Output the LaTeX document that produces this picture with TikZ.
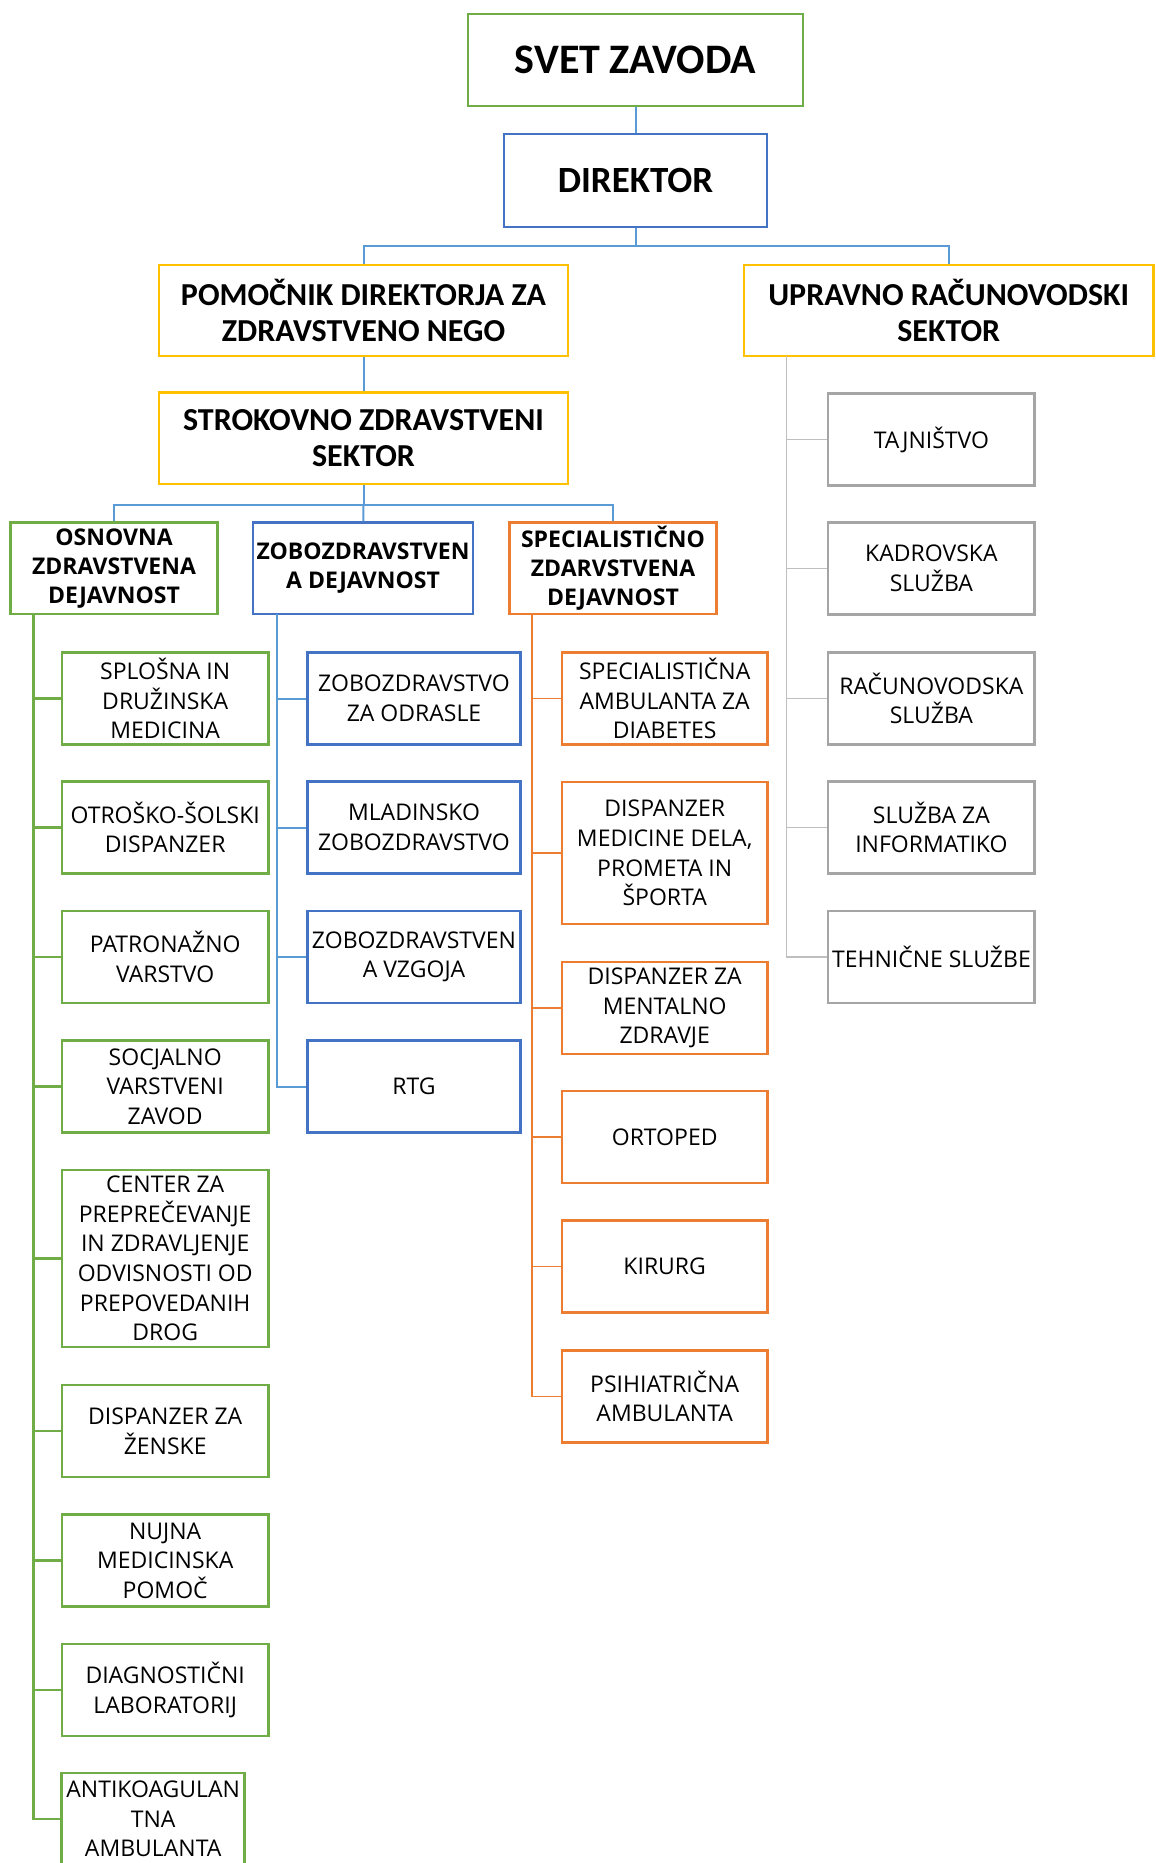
\documentclass[tikz,border=0pt]{standalone}
\usepackage{fontspec}
\setmainfont{Open Sans}
\newfontfamily\calfont{Carlito}
\definecolor{orggreen}{HTML}{70AD47}
\definecolor{orgblue}{HTML}{4472C4}
\definecolor{lineblue}{HTML}{5B9BD5}
\definecolor{orgorange}{HTML}{ED7D31}
\definecolor{orggold}{HTML}{FFC000}
\definecolor{orggray}{HTML}{A5A5A5}
\definecolor{linegray}{HTML}{BFBFBF}
\begin{document}
\begin{tikzpicture}
    [x=0.5pt,y=-0.5pt,inner sep=0pt,
     box/.style={rectangle,draw,line width=1.25pt,align=center,minimum height=46pt,
       font=\fontsize{11.5}{14.8}\selectfont},
     topbox/.style={box,font=\calfont\bfseries\fontsize{16}{17.8}\selectfont},
     headbox/.style={box,font=\bfseries\fontsize{11.5}{14.6}\selectfont},
     greenbox/.style={box,draw=orggreen,minimum width=103.3pt},
     bluebox/.style={box,draw=orgblue,minimum width=106.3pt},
     orangebox/.style={box,draw=orgorange,minimum width=102.7pt},
     graybox/.style={box,draw=orggray,minimum width=103.3pt},
     topline/.style={draw=lineblue,line width=1pt},
     greenline/.style={draw=orggreen,line width=1.3pt},
     blueline/.style={draw=lineblue,line width=1pt},
     orangeline/.style={draw=orgorange,line width=0.6pt},
     grayline/.style={draw=linegray,line width=0.6pt}]

    \useasboundingbox (0,0) rectangle (1156,1863);

    % top of the chart:
    \node (svet) at (635.5, 60) [box,draw=orggreen,minimum width=167.5pt,
      font=\calfont\bfseries\fontsize{21}{24}\selectfont] {SVET ZAVODA};
    \node (dir) at (635.5, 180.5) [box,draw=orgblue,minimum width=131.5pt,minimum height=46.5pt,
      font=\calfont\bfseries\fontsize{18.5}{22}\selectfont] {DIREKTOR};

    % sectors:
    \node (pom) at (363.5, 310.5) [topbox,draw=orggold,minimum width=204.5pt,minimum height=45.5pt]
      {POMOČNIK DIREKTORJA ZA\\ZDRAVSTVENO NEGO};
    \node (upr) at (948.75, 310.5) [topbox,draw=orggold,minimum width=204.75pt,minimum height=45.5pt]
      {UPRAVNO RAČUNOVODSKI\\SEKTOR};
    \node (strok) at (363.5, 438) [topbox,draw=orggold,minimum width=204.5pt,minimum height=45.75pt]
      {STROKOVNO ZDRAVSTVENI\\SEKTOR};

    % activities:
    \node (osn) at (114, 568.4) [headbox,draw=orggreen,minimum width=103.3pt,minimum height=45.7pt]
      {OSNOVNA\\ZDRAVSTVENA\\DEJAVNOST};
    \node (zob) at (363, 568.4) [headbox,draw=orgblue,minimum width=110pt,minimum height=45.7pt]
      {ZOBOZDRAVSTVEN\\A DEJAVNOST};
    \node (spec) at (613, 568.4) [headbox,draw=orgorange,minimum width=103.3pt,minimum height=45.7pt]
      {SPECIALISTIČNO\\ZDARVSTVENA\\DEJAVNOST};

    % green column:
    \node (g1) at (165.2, 698.5) [greenbox] {SPLOŠNA IN\\DRUŽINSKA\\MEDICINA};
    \node (g2) at (165.2, 827.5) [greenbox] {OTROŠKO-ŠOLSKI\\DISPANZER};
    \node (g3) at (165.2, 957) [greenbox] {PATRONAŽNO\\VARSTVO};
    \node (g4) at (165.2, 1086.5) [greenbox] {SOCJALNO\\VARSTVENI\\ZAVOD};
    \node (g5) at (165.2, 1258.5) [greenbox,minimum height=88.5pt]
      {CENTER ZA\\PREPREČEVANJE\\IN ZDRAVLJENJE\\ODVISNOSTI OD\\PREPOVEDANIH\\DROG};
    \node (g6) at (165.2, 1431) [greenbox] {DISPANZER ZA\\ŽENSKE};
    \node (g7) at (165.2, 1560.5) [greenbox] {NUJNA\\MEDICINSKA\\POMOČ};
    \node (g8) at (165.2, 1690) [greenbox] {DIAGNOSTIČNI\\LABORATORIJ};
    \node (g9) at (153.2, 1819) [greenbox,minimum width=91.5pt] {ANTIKOAGULAN\\TNA\\AMBULANTA};

    % blue column:
    \node (b1) at (414, 698.5) [bluebox] {ZOBOZDRAVSTVO\\ZA ODRASLE};
    \node (b2) at (414, 827.5) [bluebox] {MLADINSKO\\ZOBOZDRAVSTVO};
    \node (b3) at (414, 957) [bluebox] {ZOBOZDRAVSTVEN\\A VZGOJA};
    \node (b4) at (414, 1086.5) [bluebox] {RTG};

    % orange column:
    \node (o1) at (664.7, 698.5) [orangebox] {SPECIALISTIČNA\\AMBULANTA ZA\\DIABETES};
    \node (o2) at (664.7, 853) [orangebox,minimum height=71pt]
      {DISPANZER\\MEDICINE DELA,\\PROMETA IN\\ŠPORTA};
    \node (o3) at (664.7, 1008) [orangebox] {DISPANZER ZA\\MENTALNO\\ZDRAVJE};
    \node (o4) at (664.7, 1137) [orangebox] {ORTOPED};
    \node (o5) at (664.7, 1266.5) [orangebox] {KIRURG};
    \node (o6) at (664.7, 1396.5) [orangebox] {PSIHIATRIČNA\\AMBULANTA};

    % gray column:
    \node (s1) at (931.4, 439.5) [graybox] {TAJNIŠTVO};
    \node (s2) at (931.4, 568.5) [graybox] {KADROVSKA\\SLUŽBA};
    \node (s3) at (931.4, 698.5) [graybox] {RAČUNOVODSKA\\SLUŽBA};
    \node (s4) at (931.4, 827.5) [graybox] {SLUŽBA ZA\\INFORMATIKO};
    \node (s5) at (931.4, 957) [graybox] {TEHNIČNE SLUŽBE};

    % forks and trunks:
    \coordinate (fork1) at (635.5, 246);
    \coordinate (fork2) at (363.5, 505);
    \coordinate (gtrunk) at (33.3, 614);
    \coordinate (btrunk) at (276.8, 614);
    \coordinate (otrunk) at (532, 614);
    \coordinate (strunk) at (786.5, 356);

    % connect nodes:

    \draw [topline] (svet) to (dir);
    \draw [topline] (dir) to (fork1);
    \draw [topline] (fork1) -| (pom);
    \draw [topline] (fork1) -| (upr);
    \draw [topline] (pom) to (strok);
    \draw [topline] (strok) to (fork2);
    \draw [topline] (fork2) -| (osn);
    \draw [topline] (fork2) to (zob);
    \draw [topline] (fork2) -| (spec);

    \draw [greenline] (gtrunk) |- (g1);
    \draw [greenline] (gtrunk) |- (g2);
    \draw [greenline] (gtrunk) |- (g3);
    \draw [greenline] (gtrunk) |- (g4);
    \draw [greenline] (gtrunk) |- (g5);
    \draw [greenline] (gtrunk) |- (g6);
    \draw [greenline] (gtrunk) |- (g7);
    \draw [greenline] (gtrunk) |- (g8);
    \draw [greenline] (gtrunk) |- (g9);

    \draw [blueline] (btrunk) |- (b1);
    \draw [blueline] (btrunk) |- (b2);
    \draw [blueline] (btrunk) |- (b3);
    \draw [blueline] (btrunk) |- (b4);

    \draw [orangeline] (otrunk) |- (o1);
    \draw [orangeline] (otrunk) |- (o2);
    \draw [orangeline] (otrunk) |- (o3);
    \draw [orangeline] (otrunk) |- (o4);
    \draw [orangeline] (otrunk) |- (o5);
    \draw [orangeline] (otrunk) |- (o6);

    \draw [grayline] (strunk) |- (s1);
    \draw [grayline] (strunk) |- (s2);
    \draw [grayline] (strunk) |- (s3);
    \draw [grayline] (strunk) |- (s4);
    \draw [grayline] (strunk) |- (s5);

  \end{tikzpicture}
\end{document}
